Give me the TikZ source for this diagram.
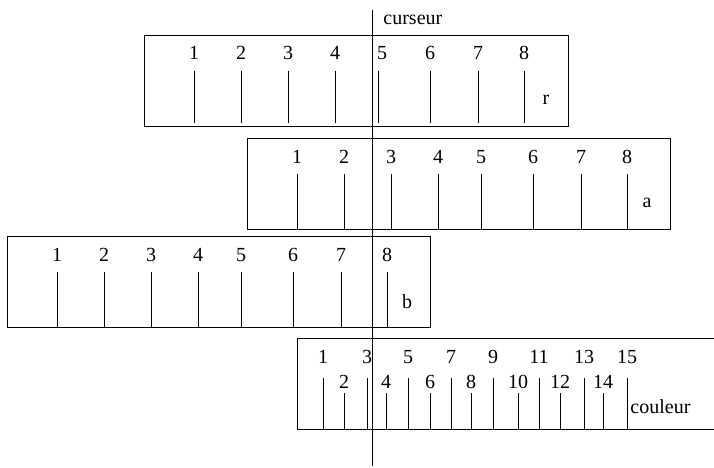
\documentclass[tikz,border=0pt]{standalone}
\usepackage{fontspec}
\setmainfont{Liberation Serif}
\begin{document}
\begin{tikzpicture}[x=1pt,y=-1pt,line width=0.9pt,
  lab/.style={inner sep=0pt,font=\fontsize{20}{20}\selectfont},
  rule/.style={draw,line width=0.9pt}]
\useasboundingbox (0,0) rectangle (714,467);
% box r
\draw[rule] (144,35) rectangle (568,126);
\foreach \x/\n/\d [count=\i] in {194/1/0,241/2/0,288/3/0,335/4/0,378/5/4,430/6/0,478/7/0,524/8/0}{
  \draw (\x,71) -- (\x,123);
  \node[lab] (r\i) at (\x+\d,53) {\n};
}
\node[lab] (rl) at (546,100) {r};
% box a
\draw[rule] (247,138) rectangle (670,229);
\foreach \x/\n [count=\i] in {297/1,344/2,391/3,438/4,481/5,533/6,581/7,627/8}{
  \draw (\x,174) -- (\x,229);
  \node[lab] (a\i) at (\x,157) {\n};
}
\node[lab] (al) at (647,203) {a};
% box b
\draw[rule] (7,236) rectangle (430,327);
\foreach \x/\n [count=\i] in {57/1,104/2,151/3,198/4,241/5,293/6,341/7,387/8}{
  \draw (\x,272) -- (\x,327);
  \node[lab] (b\i) at (\x,255) {\n};
}
\node[lab] (bl) at (407,302) {b};
% box couleur
\draw[rule] (714,338) -- (297,338) -- (297,429) -- (714,429);
\foreach \x/\n in {323/1,367/3,408/5,451/7,493/9,539/11,584/13,627/15}{
  \draw (\x,378) -- (\x,429);
  \node[lab] (c\n) at (\x,357) {\n};
}
\foreach \x/\n in {344/2,386/4,430/6,471/8,518/10,560/12,603/14}{
  \draw (\x,393) -- (\x,429);
  \node[lab] (c\n) at (\x,382) {\n};
}
\node[lab,anchor=west] (cl) at (630,407) {couleur};
% cursor
\coordinate (ctop) at (372,10);
\coordinate (cbot) at (372,466);
\draw (ctop) -- (cbot);
\node[lab,anchor=west] (cur) at (383,20) {curseur};
\end{tikzpicture}
\end{document}
